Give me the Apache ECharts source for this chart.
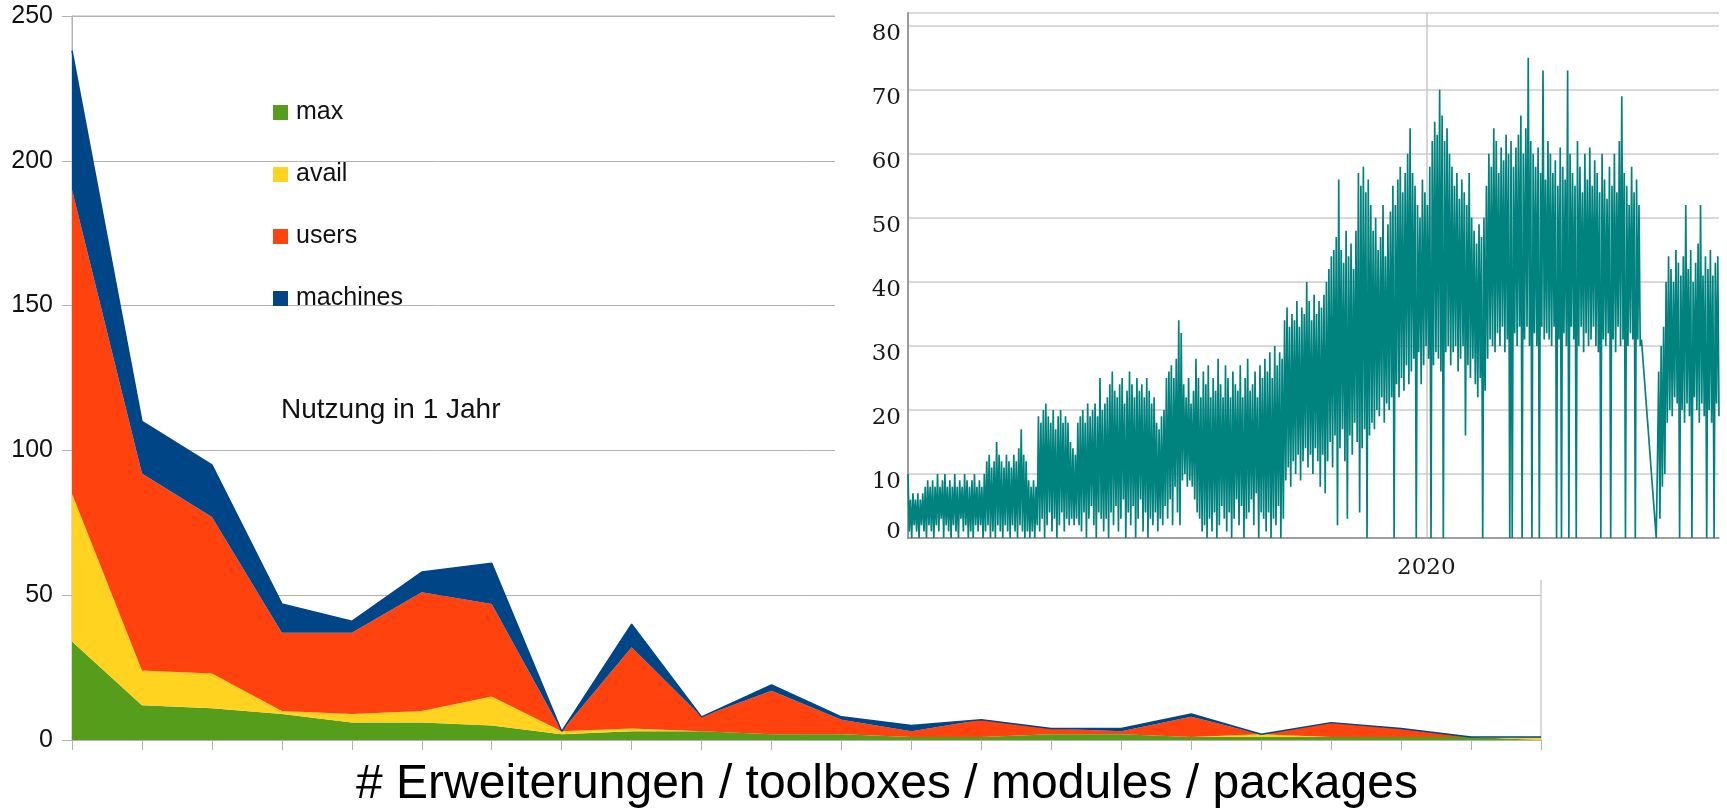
<!DOCTYPE html>
<html>
<head>
<meta charset="utf-8">
<script src="https://cdn.jsdelivr.net/npm/echarts@6/dist/echarts.min.js"></script>
<style>
* { margin: 0; padding: 0; }
html, body { background: #fff; }
#chart { width: 1727px; height: 808px; }
</style>
</head>
<body>
<div id="chart"></div>
<script>
// main stacked area chart
const categories = [1, 2, 3, 4, 5, 6, 7, 8, 9, 10, 11, 12, 13, 14, 15, 16, 17, 18, 19, 20, 21, 22];
const maxData = [34, 12, 11, 9, 6, 6, 5, 2, 3, 3, 2, 2, 1, 1, 2, 2, 1, 1, 1, 1, 1, 0];
const availData = [51, 12, 12, 1, 3, 4, 10, 1, 1, 0, 0, 0, 0, 0, 0, 0, 0, 1, 0, 0, 0, 1];
const usersData = [105, 68, 54, 27, 28, 41, 32, 0, 28, 5, 15, 5, 2, 6, 2, 1, 7, 0, 5, 3, 0, 0];
const machinesData = [48, 18, 18, 10, 4, 7, 14, 0, 8, 0, 2, 1, 2, 0, 0, 1, 1, 0, 0, 0, 0, 0];
const yTicks = [0, 50, 100, 150, 200, 250];

// inset: usage over time, one value every 60 hours
const insetStart = '2017-02-12';
const insetStepHours = 60;
const inset2020 = '2020-01-01';
const insetTicks = [0, 10, 20, 30, 40, 50, 60, 70, 80];
const insetA = [
  10, 1, 6, 0, 7, 2, 6, 1, 7, 0,
  6, 2, 7, 1, 8, 0, 9, 2, 8, 1,
  9, 0, 8, 2, 10, 1, 8, 3, 9, 0,
  10, 2, 8, 1, 9, 0, 8, 2, 10, 1,
  8, 0, 9, 3, 8, 1, 10, 2, 9, 0,
  8, 1, 9, 0, 10, 2, 8, 1, 9, 2,
  8, 0, 10, 1, 12, 2, 13, 0, 11, 1,
  12, 0, 15, 2, 13, 1, 12, 0, 11, 2,
  13, 1, 12, 0, 11, 2, 13, 1, 12, 0,
  14, 2, 17, 1, 13, 0, 12, 1, 9, 0,
  8, 1, 9, 0, 8, 2, 19, 1, 18, 3,
  20, 0, 21, 2, 19, 4, 18, 1, 20, 3,
  17, 0, 19, 2, 20, 4, 18, 1, 19, 3,
  18, 2, 15, 3, 14, 2, 13, 3, 18, 2,
  19, 1, 20, 4, 18, 0, 21, 3, 19, 5,
  20, 2, 21, 0, 19, 4, 25, 3, 20, 1,
  21, 3, 22, 0, 24, 4, 26, 2, 23, 5
];
const insetB = [
  22, 1, 24, 3, 25, 6, 21, 0, 23, 4,
  26, 2, 24, 5, 22, 0, 25, 3, 23, 6,
  24, 1, 22, 4, 25, 0, 23, 3, 21, 2,
  22, 4, 18, 1, 17, 3, 19, 2, 20, 5,
  25, 3, 26, 6, 27, 2, 25, 8, 28, 4,
  34, 2, 32, 9, 24, 10, 22, 8, 25, 9,
  21, 8, 23, 6, 28, 4, 25, 3, 22, 1,
  26, 2, 24, 0, 27, 3, 22, 1, 25, 4,
  23, 0, 28, 2, 24, 5, 22, 3, 27, 1,
  25, 4, 22, 0, 26, 3, 24, 6, 23, 2,
  27, 5, 22, 0, 25, 3, 28, 4, 23, 6,
  24, 2, 26, 7, 22, 0, 27, 4, 25, 3,
  28, 1, 26, 4, 29, 0, 25, 3, 30, 2,
  27, 5, 29, 0, 28, 3, 34, 9, 36, 11,
  33, 8, 35, 12, 34, 10, 37, 13, 33, 9,
  36, 12, 35, 14, 40, 11, 37, 13, 34, 10,
  38, 14, 35, 12, 37, 8, 36, 13, 38, 7
];
const insetC = [
  40, 12, 42, 15, 44, 11, 45, 16, 47, 2,
  56, 14, 45, 17, 43, 12, 48, 3, 44, 16,
  46, 13, 42, 18, 48, 15, 57, 4, 55, 14,
  58, 17, 54, 0, 56, 16, 52, 18, 48, 17,
  50, 20, 45, 19, 47, 22, 52, 18, 44, 21,
  49, 20, 51, 22, 55, 0, 52, 24, 56, 22,
  58, 25, 54, 23, 57, 27, 60, 24, 64, 26,
  57, 28, 55, 0, 52, 29, 50, 24, 56, 27,
  54, 30, 52, 28, 58, 0, 62, 27, 65, 29,
  63, 28, 70, 26, 66, 0, 62, 29, 64, 30,
  60, 27, 58, 29, 55, 30, 57, 26, 53, 28,
  56, 30, 54, 16, 52, 27, 57, 25, 50, 28,
  48, 24, 46, 22, 49, 25, 47, 0, 50, 23,
  55, 28, 60, 31, 58, 30, 64, 29, 62, 32,
  57, 30, 61, 33, 59, 29, 63, 31, 60, 0,
  62, 0, 58, 32, 61, 30, 63, 33, 66, 0
];
const insetD = [
  60, 31, 64, 33, 75, 30, 62, 0, 60, 32,
  58, 30, 61, 0, 57, 33, 73, 31, 56, 32,
  62, 31, 60, 30, 57, 33, 59, 0, 55, 31,
  61, 0, 58, 32, 56, 30, 73, 0, 60, 33,
  57, 31, 55, 0, 62, 30, 58, 33, 54, 29,
  60, 32, 56, 30, 61, 31, 55, 33, 59, 30,
  57, 29, 54, 0, 60, 31, 56, 30, 53, 32,
  58, 0, 55, 31, 60, 29, 54, 33, 62, 30,
  69, 31, 57, 0, 55, 30, 52, 32, 58, 31,
  54, 0, 56, 31, 52, 30, 31, null, null, null,
  null, null, null, null, null, null, null, null, 0, 12,
  26, 3, 30, 8, 33, 10, 40, 18, 44, 20,
  42, 19, 40, 22, 45, 21, 43, 0, 41, 20,
  44, 18, 52, 21, 42, 19, 45, 0, 40, 22,
  43, 20, 46, 18, 52, 21, 41, 19, 44, 0,
  42, 20, 45, 18, 41, 0, 43, 21, 44, 19
];

const insetValues = insetA.concat(insetB, insetC, insetD);
const hourMs = 3600000;
const t0 = new Date(insetStart).getTime();
const insetData = insetValues.map((v, i) => [t0 + i * insetStepHours * hourMs, v]);
const tEnd = t0 + (insetValues.length - 1) * insetStepHours * hourMs;

const chart = echarts.init(document.getElementById('chart'));
const font = 'Liberation Sans';
const gridColor = '#b3b3b3';
const colors = ['#579d1c', '#ffd320', '#ff420e', '#004586'];

function areaSeries (name, data, idx) {
  return {
    name: name,
    type: 'line',
    stack: 'total',
    data: data,
    xAxisIndex: 0,
    yAxisIndex: 0,
    symbol: 'none',
    color: colors[idx],
    lineStyle: { width: name === 'machines' ? 1.5 : 0, color: colors[idx] },
    areaStyle: { color: colors[idx], opacity: 1 },
    z: 2
  };
}

chart.setOption({
  animation: false,
  backgroundColor: '#fff',
  grid: [
    { left: 72, top: 16, right: 186, bottom: 68, show: true, borderColor: gridColor, borderWidth: 1 },
    { left: 908, top: 13, right: 8, bottom: 270 }
  ],
  legend: {
    data: ['max', 'avail', 'users', 'machines'],
    orient: 'vertical',
    left: 268,
    top: 95,
    icon: 'rect',
    itemWidth: 15,
    itemHeight: 15,
    itemGap: 37,
    selectedMode: false,
    textStyle: { fontFamily: font, fontSize: 25, color: '#111', lineHeight: 15, padding: [0, 0, 0, 3] }
  },
  graphic: [
    {
      type: 'text',
      left: 281,
      top: 396,
      z: 1,
      style: { text: 'Nutzung in 1 Jahr', font: '28px "Liberation Sans"', fill: '#111' }
    },
    {
      type: 'text',
      left: 356,
      top: 761,
      z: 1,
      style: { text: '# Erweiterungen / toolboxes / modules / packages', font: '48px "Liberation Sans"', fill: '#000' }
    },
    {
      type: 'rect',
      z: 3,
      shape: { x: 835, y: 0, width: 892, height: 580 },
      style: { fill: '#fff' }
    }
  ],
  xAxis: [
    {
      type: 'category',
      gridIndex: 0,
      data: categories,
      boundaryGap: false,
      axisLine: { lineStyle: { color: gridColor } },
      axisTick: { show: true, interval: 0, length: 10, lineStyle: { color: gridColor } },
      axisLabel: { show: false },
      splitLine: { show: false }
    },
    {
      type: 'time',
      gridIndex: 1,
      min: t0,
      max: tEnd,
      z: 5,
      axisLine: { show: true, lineStyle: { color: '#8a8a8a', width: 1.5 } },
      axisTick: { show: false },
      axisLabel: { show: false },
      splitLine: { show: false }
    }
  ],
  yAxis: [
    {
      type: 'value',
      gridIndex: 0,
      min: yTicks[0],
      max: yTicks[yTicks.length - 1],
      interval: 50,
      axisLine: { show: true, lineStyle: { color: gridColor } },
      axisTick: { show: true, length: 10, lineStyle: { color: gridColor } },
      axisLabel: { fontFamily: font, fontSize: 25, color: '#111', margin: 19 },
      splitLine: { lineStyle: { color: gridColor, width: 1 } }
    },
    {
      type: 'value',
      gridIndex: 1,
      min: insetTicks[0],
      max: 82,
      interval: 10,
      z: 5,
      axisLine: { show: true, lineStyle: { color: '#9a9a9a', width: 2 } },
      axisTick: { show: false },
      axisLabel: {
        fontFamily: 'DejaVu Serif', fontSize: 23, color: '#1a1a1a', margin: 7,
        formatter: v => {
          if (insetTicks.indexOf(v) < 0) return '';
          return v === 0 ? '{z|0}' : '{n|' + v + '}';
        },
        rich: {
          n: { fontFamily: 'DejaVu Serif', fontSize: 23, color: '#1a1a1a', padding: [16, 0, 0, 0] },
          z: { fontFamily: 'DejaVu Serif', fontSize: 23, color: '#1a1a1a', padding: [0, 0, 12, 0] }
        }
      },
      splitLine: { lineStyle: { color: '#cccccc', width: 1.5 } }
    }
  ],
  series: [
    areaSeries('max', maxData, 0),
    areaSeries('avail', availData, 1),
    areaSeries('users', usersData, 2),
    areaSeries('machines', machinesData, 3),
    {
      name: 'inset',
      type: 'line',
      xAxisIndex: 1,
      yAxisIndex: 1,
      data: insetData,
      symbol: 'none',
      connectNulls: true,
      sampling: false,
      z: 6,
      lineStyle: { color: '#00827e', width: 1.7 },
      markLine: {
        silent: true,
        symbol: 'none',
        lineStyle: { color: '#c8c8c8', width: 1.5, type: 'solid' },
        label: { show: true, position: 'start', distance: 19, formatter: '2020',
          fontFamily: 'DejaVu Serif', fontSize: 23, color: '#1a1a1a' },
        data: [{ xAxis: new Date(inset2020).getTime() }]
      }
    }
  ]
});
</script>
</body>
</html>
